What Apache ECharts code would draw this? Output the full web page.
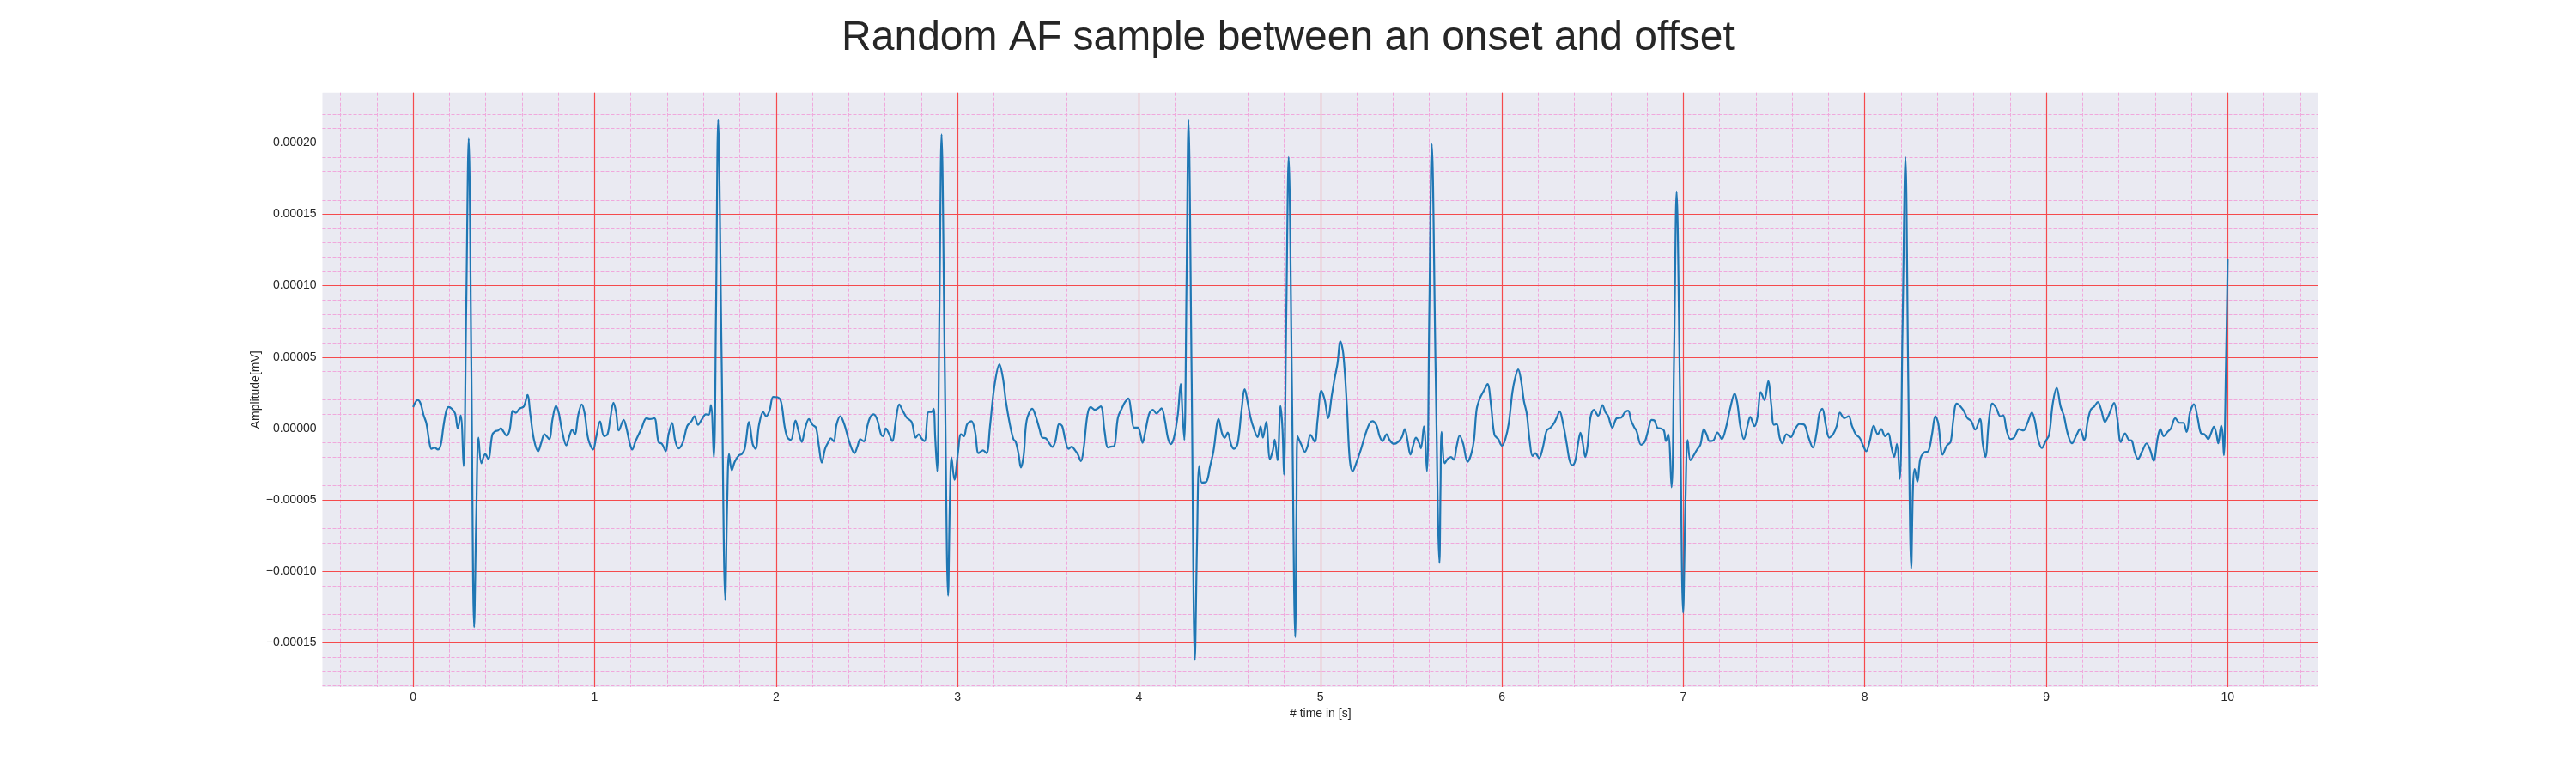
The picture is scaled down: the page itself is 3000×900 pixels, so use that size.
<!DOCTYPE html>
<html>
<head>
<meta charset="utf-8">
<title>Random AF sample between an onset and offset</title>
<script src="https://cdn.jsdelivr.net/npm/echarts@6/dist/echarts.min.js"></script>
<style>
  html, body { margin: 0; padding: 0; background: #ffffff; }
  #chart { width: 3000px; height: 900px; }
</style>
</head>
<body>
<div id="chart"></div>
<script>
// ---------------- DATA ----------------
const chartTitle = 'Random AF sample between an onset and offset';
const xAxisTitle = '# time in [s]';
const yAxisTitle = 'Amplitude[mV]';

// major tick values (labelled) and minor grid values
const xTickValues = [0, 1, 2, 3, 4, 5, 6, 7, 8, 9, 10];
const yTickValues = [-0.00015, -0.0001, -0.00005, 0, 0.00005, 0.0001, 0.00015, 0.0002];
const xMinorRange = [-0.4, 10.4, 0.2];
const yMinorRange = [-0.00018, 0.00023, 0.00001];

// time in seconds
const timeS = [
0.000,0.025,0.041,0.057,0.073,0.088,0.101,0.117,0.136,0.152,0.167,0.183,0.196,0.212,0.231,0.246,0.262,0.278,0.292,0.306,
0.321,0.336,0.348,0.360,0.376,0.397,0.414,0.436,0.452,0.468,0.483,0.499,0.515,0.531,0.550,0.566,0.586,0.610,0.630,0.646,
0.665,0.689,0.705,0.724,0.749,0.768,0.787,0.803,0.818,0.844,0.863,0.876,0.891,0.910,0.929,0.945,0.965,0.992,1.008,1.030,
1.052,1.071,1.087,1.104,1.118,1.134,1.160,1.175,1.194,1.207,1.226,1.257,1.286,1.305,1.329,1.352,1.371,1.392,1.407,1.427,
1.444,1.463,1.487,1.510,1.534,1.550,1.570,1.589,1.613,1.629,1.641,1.657,1.669,1.681,1.700,1.720,1.731,1.741,1.756,1.772,
1.796,1.811,1.827,1.851,1.871,1.887,1.906,1.929,1.945,1.964,1.984,2.008,2.028,2.047,2.063,2.082,2.107,2.123,2.142,2.160,
2.181,2.201,2.220,2.236,2.252,2.270,2.286,2.302,2.318,2.333,2.354,2.377,2.406,2.432,2.448,2.464,2.484,2.503,2.519,2.538,
2.558,2.579,2.590,2.605,2.621,2.640,2.660,2.679,2.700,2.720,2.747,2.770,2.786,2.802,2.818,2.841,2.857,2.868,2.877,2.888,
2.900,2.912,2.930,2.948,2.958,2.967,2.983,3.003,3.019,3.035,3.053,3.077,3.097,3.116,3.140,3.160,3.179,3.203,3.231,3.250,
3.266,3.289,3.308,3.321,3.337,3.349,3.365,3.381,3.412,3.431,3.451,3.467,3.486,3.506,3.522,3.538,3.561,3.577,3.593,3.612,
3.629,3.648,3.664,3.680,3.695,3.716,3.734,3.758,3.789,3.810,3.829,3.844,3.863,3.884,3.907,3.923,3.942,3.958,3.973,3.994,
4.005,4.020,4.036,4.057,4.077,4.096,4.124,4.143,4.159,4.175,4.193,4.214,4.230,4.241,4.250,4.262,4.273,4.290,4.308,4.320,
4.332,4.347,4.371,4.392,4.410,4.439,4.458,4.473,4.489,4.508,4.524,4.544,4.565,4.583,4.599,4.615,4.634,4.654,4.670,4.683,
4.701,4.722,4.738,4.748,4.764,4.780,4.791,4.799,4.812,4.825,4.843,4.861,4.868,4.874,4.895,4.914,4.929,4.945,4.969,4.984,
5.005,5.024,5.042,5.063,5.079,5.094,5.110,5.126,5.146,5.162,5.178,5.197,5.224,5.247,5.271,5.287,5.310,5.326,5.342,5.365,
5.381,5.405,5.428,5.449,5.465,5.480,5.496,5.512,5.526,5.543,5.554,5.570,5.587,5.600,5.614,5.635,5.656,5.662,5.668,5.685,
5.701,5.720,5.735,5.751,5.767,5.786,5.811,5.830,5.846,5.861,5.880,5.901,5.921,5.940,5.959,5.980,6.000,6.019,6.038,6.058,
6.074,6.090,6.106,6.121,6.137,6.153,6.169,6.184,6.205,6.224,6.247,6.268,6.287,6.302,6.318,6.337,6.357,6.373,6.389,6.405,
6.420,6.433,6.444,6.460,6.472,6.488,6.507,6.531,6.554,6.570,6.586,6.609,6.633,6.657,6.677,6.696,6.712,6.728,6.743,6.767,
6.787,6.806,6.825,6.841,6.857,6.877,6.893,6.904,6.917,6.935,6.949,6.963,6.981,6.999,7.012,7.024,7.039,7.055,7.075,7.094,
7.113,7.129,7.144,7.165,7.188,7.212,7.235,7.259,7.283,7.298,7.314,7.334,7.353,7.369,7.392,7.408,7.427,7.447,7.468,7.484,
7.499,7.515,7.531,7.546,7.568,7.593,7.612,7.640,7.667,7.688,7.714,7.735,7.750,7.766,7.785,7.804,7.824,7.845,7.863,7.887,
7.911,7.929,7.950,7.973,7.989,8.008,8.028,8.049,8.071,8.091,8.112,8.130,8.146,8.162,8.177,8.193,8.208,8.224,8.240,8.256,
8.266,8.275,8.290,8.306,8.327,8.350,8.370,8.389,8.405,8.429,8.452,8.473,8.488,8.507,8.542,8.566,8.587,8.609,8.635,8.650,
8.665,8.684,8.703,8.724,8.747,8.763,8.782,8.803,8.823,8.850,8.874,8.897,8.921,8.937,8.956,8.976,8.997,9.016,9.036,9.058,
9.079,9.098,9.118,9.142,9.166,9.186,9.209,9.229,9.245,9.265,9.284,9.303,9.324,9.344,9.374,9.392,9.411,9.434,9.455,9.471,
9.487,9.506,9.529,9.553,9.572,9.592,9.613,9.629,9.648,9.668,9.687,9.711,9.735,9.755,9.774,9.793,9.814,9.834,9.853,9.872,
9.893,9.908,9.924,9.937,9.948,9.964,9.972,9.979,9.990,10.000
];

// amplitude in mV
const amplitudeMV = [
1.5e-5,2.0e-5,1.75e-5,0.96e-5,0.36e-5,-0.84e-5,-1.43e-5,-1.33e-5,-1.47e-5,-1.14e-5,0.16e-5,1.25e-5,1.51e-5,1.39e-5,1.06e-5,0,0.92e-5,-2.63e-5,8.0e-5,20.3e-5,
4.0e-5,-13.9e-5,-6.0e-5,-0.64e-5,-2.43e-5,-1.79e-5,-2.13e-5,-0.44e-5,-0.2e-5,-0.14e-5,0.02e-5,-0.24e-5,-0.5e-5,-0.14e-5,1.25e-5,1.1e-5,1.39e-5,1.55e-5,2.35e-5,0.96e-5,
-0.74e-5,-1.59e-5,-1.04e-5,-0.4e-5,-0.74e-5,0.66e-5,1.59e-5,1.06e-5,0,-1.18e-5,-0.44e-5,-0.08e-5,-0.4e-5,0.96e-5,1.69e-5,1.06e-5,-0.74e-5,-1.47e-5,-0.64e-5,0.5e-5,
-0.54e-5,-0.4e-5,0.76e-5,1.81e-5,1.16e-5,-0.14e-5,0.6e-5,0.06e-5,-1.04e-5,-1.47e-5,-0.88e-5,-0.04e-5,0.72e-5,0.66e-5,0.72e-5,-0.94e-5,-1.08e-5,-1.59e-5,-0.44e-5,0.4e-5,
-0.84e-5,-1.39e-5,-0.94e-5,0.16e-5,0.52e-5,0.86e-5,0.26e-5,0.6e-5,1.0e-5,0.96e-5,1.65e-5,-2.03e-5,8.0e-5,21.6e-5,5.0e-5,-12.0e-5,-5.0e-5,-1.79e-5,-2.93e-5,-2.33e-5,
-1.87e-5,-1.79e-5,-1.43e-5,0.46e-5,-1.08e-5,-1.43e-5,0.26e-5,1.16e-5,0.86e-5,1.25e-5,2.21e-5,2.19e-5,1.85e-5,0.16e-5,-0.64e-5,-0.8e-5,0.56e-5,-0.14e-5,-0.94e-5,0,
0.66e-5,0.26e-5,0.06e-5,-1.24e-5,-2.39e-5,-1.43e-5,-1.0e-5,-0.68e-5,-0.9e-5,0.26e-5,0.86e-5,0.26e-5,-1.04e-5,-1.73e-5,-1.27e-5,-0.74e-5,-0.9e-5,0.16e-5,0.8e-5,1.0e-5,
0.6e-5,-0.44e-5,-0.54e-5,0,-0.34e-5,-0.88e-5,0.56e-5,1.69e-5,1.2e-5,0.76e-5,0.46e-5,-0.64e-5,-0.4e-5,-0.7e-5,-0.88e-5,1.16e-5,1.16e-5,1.39e-5,-0.64e-5,-2.99e-5,
8.0e-5,20.6e-5,4.0e-5,-11.7e-5,-5.0e-5,-2.03e-5,-3.59e-5,-1.63e-5,-0.4e-5,-0.54e-5,0.3e-5,0.52e-5,-0.24e-5,-1.73e-5,-1.53e-5,-1.73e-5,0.16e-5,2.95e-5,4.5e-5,3.55e-5,
1.95e-5,0.26e-5,-0.74e-5,-0.94e-5,-1.83e-5,-2.73e-5,-1.83e-5,0.56e-5,1.39e-5,0.86e-5,0,-0.64e-5,-0.68e-5,-1.04e-5,-1.29e-5,-0.94e-5,0.32e-5,0.16e-5,-0.74e-5,-1.43e-5,
-1.27e-5,-1.53e-5,-1.83e-5,-2.29e-5,-1.43e-5,0.96e-5,1.51e-5,1.31e-5,1.55e-5,-0.14e-5,-1.33e-5,-1.27e-5,-1.24e-5,0.76e-5,1.45e-5,1.85e-5,2.11e-5,1.06e-5,0.06e-5,0.06e-5,
-0.24e-5,-1.0e-5,-0.14e-5,1.06e-5,1.31e-5,1.06e-5,1.41e-5,0.56e-5,-0.64e-5,-1.1e-5,-0.64e-5,0.96e-5,3.11e-5,0.76e-5,-0.8e-5,10.0e-5,21.6e-5,4.0e-5,-16.2e-5,-8.0e-5,
-2.63e-5,-3.78e-5,-3.73e-5,-2.63e-5,-1.63e-5,0.66e-5,-0.34e-5,-0.64e-5,-0.28e-5,-1.14e-5,-1.43e-5,-1.04e-5,1.25e-5,2.75e-5,1.85e-5,0.76e-5,-0.04e-5,-0.6e-5,0.16e-5,-0.64e-5,
0.46e-5,-2.13e-5,-1.53e-5,-0.78e-5,-2.23e-5,1.59e-5,-0.04e-5,-3.23e-5,8.0e-5,19.0e-5,3.0e-5,-14.6e-5,-6.0e-5,-0.54e-5,-1.14e-5,-1.63e-5,-1.24e-5,-0.44e-5,-0.94e-5,0.56e-5,
2.65e-5,1.99e-5,0.72e-5,2.35e-5,3.55e-5,4.54e-5,6.1e-5,5.24e-5,1.55e-5,-2.23e-5,-2.99e-5,-2.43e-5,-1.43e-5,-0.44e-5,0.36e-5,0.52e-5,0.2e-5,-0.54e-5,-0.88e-5,-0.4e-5,
-0.8e-5,-1.08e-5,-0.94e-5,-0.6e-5,-0.04e-5,-0.84e-5,-1.83e-5,-1.14e-5,-0.64e-5,-1.0e-5,-1.39e-5,0.16e-5,-2.99e-5,8.0e-5,19.9e-5,4.0e-5,-9.4e-5,-4.0e-5,-0.24e-5,-2.43e-5,
-2.13e-5,-1.99e-5,-2.19e-5,-1.24e-5,-0.5e-5,-1.04e-5,-2.33e-5,-1.83e-5,-0.84e-5,1.35e-5,2.15e-5,2.65e-5,3.11e-5,1.65e-5,-0.44e-5,-0.74e-5,-1.2e-5,-0.74e-5,0.36e-5,2.55e-5,
3.59e-5,4.14e-5,3.35e-5,1.95e-5,1.06e-5,-0.84e-5,-1.93e-5,-1.73e-5,-2.07e-5,-1.43e-5,-0.14e-5,0.06e-5,0.36e-5,0.76e-5,1.2e-5,0.36e-5,-1.04e-5,-2.23e-5,-2.57e-5,-2.23e-5,
-1.04e-5,-0.3e-5,-0.88e-5,-1.99e-5,-1.24e-5,0.76e-5,1.31e-5,0.9e-5,1.65e-5,1.16e-5,0.86e-5,0.06e-5,0.72e-5,0.76e-5,1.12e-5,1.25e-5,0.56e-5,0.12e-5,-0.2e-5,-1.14e-5,
-0.94e-5,-0.14e-5,0.6e-5,0.56e-5,0.06e-5,0,-0.14e-5,-0.88e-5,-0.4e-5,-4.12e-5,5.0e-5,16.6e-5,3.0e-5,-12.9e-5,-5.0e-5,-0.8e-5,-2.23e-5,-1.93e-5,-1.49e-5,-1.14e-5,
-0.04e-5,-0.44e-5,-0.88e-5,-0.84e-5,-0.28e-5,-0.74e-5,0.06e-5,1.45e-5,2.45e-5,1.75e-5,0.16e-5,-0.74e-5,0.16e-5,0.82e-5,0.16e-5,0.76e-5,2.55e-5,1.99e-5,3.31e-5,1.75e-5,
0.26e-5,0.32e-5,-0.64e-5,-1.04e-5,-0.4e-5,-0.6e-5,-0.14e-5,0.32e-5,0.26e-5,-0.54e-5,-1.33e-5,-0.24e-5,1.06e-5,1.39e-5,0.26e-5,-0.64e-5,-0.44e-5,0.16e-5,1.12e-5,0.72e-5,
0.86e-5,0.2e-5,-0.4e-5,-0.68e-5,-1.14e-5,-1.59e-5,-0.84e-5,0.2e-5,-0.4e-5,-0.04e-5,-0.54e-5,-0.34e-5,-1.27e-5,-1.99e-5,-1.08e-5,-3.53e-5,7.0e-5,19.0e-5,3.0e-5,-9.8e-5,
-4.0e-5,-2.83e-5,-3.73e-5,-2.13e-5,-1.67e-5,-1.59e-5,-0.44e-5,0.86e-5,0.36e-5,-1.83e-5,-1.2e-5,-0.94e-5,0.6e-5,1.75e-5,1.31e-5,0.72e-5,0.52e-5,-0.08e-5,0.66e-5,-1.04e-5,
-1.99e-5,0.56e-5,1.75e-5,1.45e-5,0.86e-5,0.92e-5,-0.14e-5,-0.74e-5,-0.64e-5,-0.04e-5,-0.14e-5,0.4e-5,1.12e-5,0.56e-5,-0.8e-5,-1.37e-5,-0.88e-5,-0.44e-5,1.75e-5,2.85e-5,
1.55e-5,0.86e-5,-0.34e-5,-1.04e-5,-0.48e-5,-0.04e-5,-0.8e-5,0.56e-5,1.31e-5,1.55e-5,1.85e-5,1.31e-5,0.46e-5,0.92e-5,1.79e-5,0.66e-5,-0.94e-5,-0.34e-5,-0.8e-5,-0.84e-5,
-1.63e-5,-2.13e-5,-1.59e-5,-1.04e-5,-1.47e-5,-2.27e-5,-0.74e-5,-0.04e-5,-0.54e-5,-0.24e-5,0,0.72e-5,0.4e-5,0.4e-5,-0.24e-5,1.16e-5,1.71e-5,0.76e-5,-0.34e-5,-0.4e-5,
-0.74e-5,-0.34e-5,0.12e-5,-0.34e-5,-1.04e-5,0.2e-5,-0.34e-5,-1.87e-5,4.0e-5,11.9e-5
];

// ---------------- LAYOUT (pixels) ----------------
const PLOT = { left: 375.5, right: 2700, top: 107.7, bottom: 800 };
const XVIEW = [-0.5, 10.5];
const YVIEW = [-0.000181, 0.0002352];

const FONT = 'Liberation Sans, Arial, Helvetica, sans-serif';
const TEXT = '#262626';
const BG = '#EAEAF2';
const MAJOR = { color: '#F54A4C', width: 1.2, type: 'solid' };
const MINOR = { color: '#F0A8DC', width: 1, type: [4, 2] };

function px(v) { return PLOT.left + (v - XVIEW[0]) / (XVIEW[1] - XVIEW[0]) * (PLOT.right - PLOT.left); }
function py(v) { return PLOT.top + (YVIEW[1] - v) / (YVIEW[1] - YVIEW[0]) * (PLOT.bottom - PLOT.top); }

function gridX(a, b) { return { left: px(a), width: px(b) - px(a), top: PLOT.top, height: PLOT.bottom - PLOT.top }; }
function gridY(a, b) { return { left: PLOT.left, width: PLOT.right - PLOT.left, top: py(b), height: py(a) - py(b) }; }

function fmtY(v) {
  if (Math.abs(v) < 1e-12) return '0.00000';
  return (v < 0 ? '\u2212' : '') + Math.abs(v).toFixed(5);
}

const hidden = (min, max) => ({ type: 'value', show: false, min: min, max: max });

const xMajorMin = xTickValues[0], xMajorMax = xTickValues[xTickValues.length - 1];
const xMajorStep = xTickValues[1] - xTickValues[0];
const yMajorMin = yTickValues[0], yMajorMax = yTickValues[yTickValues.length - 1];
const yMajorStep = yTickValues[1] - yTickValues[0];

const baseGrid = { show: false, borderWidth: 0, containLabel: false, outerBoundsMode: 'none' };

const option = {
  animation: false,
  backgroundColor: '#ffffff',
  title: {
    text: chartTitle,
    left: 'center',
    top: 16,
    textStyle: { fontFamily: FONT, fontSize: 48, fontWeight: 'normal', color: TEXT }
  },
  grid: [
    Object.assign({}, baseGrid, { show: true, backgroundColor: BG, z: 0,
      left: PLOT.left, width: PLOT.right - PLOT.left, top: PLOT.top, height: PLOT.bottom - PLOT.top }),
    Object.assign({}, baseGrid, gridX(xMinorRange[0], xMinorRange[1])),
    Object.assign({}, baseGrid, gridY(yMinorRange[0], yMinorRange[1])),
    Object.assign({}, baseGrid, gridX(xMajorMin, xMajorMax)),
    Object.assign({}, baseGrid, gridY(yMajorMin, yMajorMax))
  ],
  xAxis: [
    { type: 'value', gridIndex: 0, min: XVIEW[0], max: XVIEW[1], z: 1,
      name: xAxisTitle, nameLocation: 'middle', nameGap: 24,
      nameTextStyle: { fontFamily: FONT, fontSize: 14, color: TEXT },
      axisLine: { show: false }, axisTick: { show: false }, axisLabel: { show: false }, splitLine: { show: false } },
    { type: 'value', gridIndex: 1, min: xMinorRange[0], max: xMinorRange[1], interval: xMinorRange[2], z: 1,
      axisLine: { show: false }, axisTick: { show: false }, axisLabel: { show: false },
      splitLine: { show: true, showMinLine: true, showMaxLine: true, lineStyle: MINOR } },
    Object.assign(hidden(0, 1), { gridIndex: 2 }),
    { type: 'value', gridIndex: 3, min: xMajorMin, max: xMajorMax, interval: xMajorStep, z: 2,
      axisLine: { show: false }, axisTick: { show: false },
      axisLabel: { show: true, margin: 5, fontFamily: FONT, fontSize: 14, color: TEXT,
        formatter: v => String(Math.round(v)) },
      splitLine: { show: true, showMinLine: true, showMaxLine: true, lineStyle: MAJOR } },
    Object.assign(hidden(0, 1), { gridIndex: 4 })
  ],
  yAxis: [
    { type: 'value', gridIndex: 0, min: YVIEW[0], max: YVIEW[1], z: 1,
      name: yAxisTitle, nameLocation: 'middle', nameGap: 70, nameRotate: 90,
      nameTextStyle: { fontFamily: FONT, fontSize: 14, color: TEXT },
      axisLine: { show: false }, axisTick: { show: false }, axisLabel: { show: false }, splitLine: { show: false } },
    Object.assign(hidden(0, 1), { gridIndex: 1 }),
    { type: 'value', gridIndex: 2, min: yMinorRange[0], max: yMinorRange[1], interval: yMinorRange[2], z: 1,
      axisLine: { show: false }, axisTick: { show: false }, axisLabel: { show: false },
      splitLine: { show: true, showMinLine: true, showMaxLine: true, lineStyle: MINOR } },
    Object.assign(hidden(0, 1), { gridIndex: 3 }),
    { type: 'value', gridIndex: 4, min: yMajorMin, max: yMajorMax, interval: yMajorStep, z: 2,
      axisLine: { show: false }, axisTick: { show: false },
      axisLabel: { show: true, margin: 7, fontFamily: FONT, fontSize: 14, color: TEXT, formatter: fmtY },
      splitLine: { show: true, showMinLine: true, showMaxLine: true, lineStyle: MAJOR } }
  ],
  series: [{
    type: 'line',
    xAxisIndex: 0,
    yAxisIndex: 0,
    z: 10,
    data: timeS.map((t, i) => [t, amplitudeMV[i]]),
    showSymbol: false,
    smooth: 0.35,
    lineStyle: { color: '#1F77B4', width: 2.2 },
    itemStyle: { color: '#1F77B4' },
    emphasis: { disabled: true },
    silent: true
  }]
};

const chart = echarts.init(document.getElementById('chart'), null, { renderer: 'canvas' });
chart.setOption(option);
</script>
</body>
</html>
